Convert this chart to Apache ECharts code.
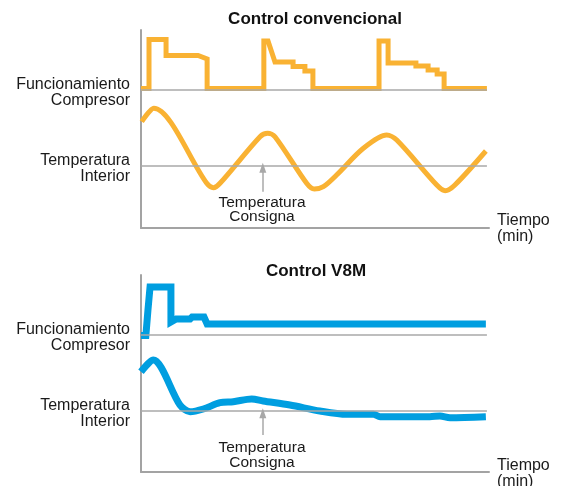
<!DOCTYPE html>
<html>
<head>
<meta charset="utf-8">
<script src="https://cdn.jsdelivr.net/npm/echarts@6/dist/echarts.min.js"></script>
<style>
  html, body { margin: 0; padding: 0; background: #fff; }
  #chart { width: 565px; height: 486px; }
</style>
</head>
<body>
<div id="chart"></div>
<script>
  // time in minutes (0..100), level = height above time axis (arbitrary units)
  var convCompressor = [[0, 139.5], [2.3, 139.5], [2.3, 188.5], [7.2, 188.5], [7.2, 172.5], [16.4, 172.5], [19.0, 169],
    [19.0, 139.5], [35.3, 139.5], [35.3, 187], [36.5, 187], [38.5, 166], [43.7, 166], [43.7, 161.5], [47.1, 161.5],
    [47.1, 157], [49.4, 157], [49.4, 139.5], [68.4, 139.5], [68.4, 187], [71.0, 187], [71.0, 165], [79.0, 165],
    [79.0, 162], [82.5, 162], [82.5, 158], [85.1, 158], [85.1, 154], [87.1, 154], [87.1, 139.5], [99.4, 139.5]]
  var convTemperature = [[0.2, 106.3], [3.7, 119.7], [18.9, 44.7], [20.8, 40.3], [22.7, 44.7], [34.2, 91.3], [36.4, 94.7],
    [38.5, 91.3], [47.6, 44.7], [49.8, 39], [52.4, 41.3], [56.2, 53], [63.9, 79.7], [70.6, 93], [73.5, 88],
    [85.0, 43], [87.4, 37.3], [90.2, 43], [99.1, 77]]
  var v8mCompressor = [[0, 136.5], [1.4, 136.5], [2.0, 162], [2.6, 185], [8.6, 185], [8.6, 150], [10.1, 153],
    [14.1, 153], [14.7, 155], [18.1, 155], [19.0, 148], [99.1, 148]]
  var v8mTemperature = [[0, 100.3], [3.5, 112], [11.2, 67], [14.1, 60.3], [17.9, 63], [22.7, 69.3], [26.5, 70.3],
    [31.8, 73], [35.1, 71], [42.8, 67], [51.4, 61], [59.1, 57.7], [66.8, 57.7], [68.7, 55.3], [83.0, 55.3],
    [85.9, 56], [88.8, 54.3], [99.1, 55.3]]
  // reference levels: [compressor off, setpoint temperature]
  var convLevels = [138.5, 62]
  var v8mLevels = [137, 61]
  var levelLabels = [['Funcionamiento', 'Compresor'], ['Temperatura', 'Interior']]
  var arrowTime = 35
  var convArrow = [36.3, 60.3]
  var v8mArrow = [37, 58.7]
  var titles = ['Control convencional', 'Control V8M']

  var ORANGE = '#F9B233'
  var BLUE = '#009EE0'
  var FONT = '"Liberation Sans", Arial, Helvetica, sans-serif'

  function makeYAxis (idx, max, levels) {
    return {
      type: 'value', gridIndex: idx, min: 0, max: max,
      axisLine: {show: true, lineStyle: {color: '#a3a3a3', width: 2}},
      axisTick: {show: false},
      splitLine: {show: false},
      axisLabel: {
        customValues: levels,
        formatter: function (v) {
          var l = levelLabels[levels.indexOf(v)]
          return '{a|' + l[0] + '}\n{b|' + l[1] + '}'
        },
        color: '#1a1a1a', fontSize: 16, fontFamily: FONT, margin: 11, align: 'right',
        rich: {
          a: {fontSize: 16, fontFamily: FONT, color: '#1a1a1a', lineHeight: 22, verticalAlign: 'bottom', align: 'right'},
          b: {fontSize: 16, fontFamily: FONT, color: '#1a1a1a', lineHeight: 16, align: 'right'}
        }
      }
    }
  }
  function makeXAxis (idx) {
    return {
      type: 'value', gridIndex: idx, min: 0, max: 100,
      axisLine: {show: true, onZero: false, lineStyle: {color: '#a3a3a3', width: 2}},
      axisTick: {show: false}, axisLabel: {show: false}, splitLine: {show: false}
    }
  }
  function refSeries (idx, levels, arrow) {
    return {
      type: 'line', xAxisIndex: idx, yAxisIndex: idx, data: [], z: 1, silent: true,
      markLine: {
        silent: true, symbol: 'none', animation: false,
        label: {show: false},
        data: [
          [{coord: [0, levels[0]]}, {coord: [99.4, levels[0]]}],
          [{coord: [0, levels[1]]}, {coord: [99.4, levels[1]]}],
          [{coord: [arrowTime, arrow[0]], symbol: 'none'}, {coord: [arrowTime, arrow[1]], symbol: 'triangle', symbolSize: [7, 10], symbolRotate: 0}]
        ],
        lineStyle: {color: '#a8a8a8', width: 1.5, type: 'solid'}
      }
    }
  }
  function lineSeries (idx, data, color, width, smooth) {
    return {
      type: 'line', xAxisIndex: idx, yAxisIndex: idx, data: data, z: 3,
      showSymbol: false, smooth: smooth, silent: true,
      lineStyle: {color: color, width: width, join: smooth ? 'round' : 'miter', cap: 'butt'}
    }
  }

  var chart = echarts.init(document.getElementById('chart'))
  var option = {
    animation: false,
    grid: [
      {left: 141, right: 76, top: 30, height: 198},
      {left: 141, right: 76, top: 275, height: 197}
    ],
    xAxis: [makeXAxis(0), makeXAxis(1)],
    yAxis: [makeYAxis(0, 198, convLevels), makeYAxis(1, 197, v8mLevels)],
    series: [
      refSeries(0, convLevels, convArrow),
      refSeries(1, v8mLevels, v8mArrow),
      lineSeries(0, convCompressor, ORANGE, 5, false),
      lineSeries(0, convTemperature, ORANGE, 5, 0.3),
      lineSeries(1, v8mCompressor, BLUE, 7, false),
      lineSeries(1, v8mTemperature, BLUE, 7, 0.3)
    ],
    graphic: [
      {type: 'text', x: 315, y: 19, style: {text: titles[0], font: 'bold 17px ' + FONT, fill: '#111', align: 'center', verticalAlign: 'middle'}},
      {type: 'text', x: 316, y: 271, style: {text: titles[1], font: 'bold 17px ' + FONT, fill: '#111', align: 'center', verticalAlign: 'middle'}},
      {type: 'text', x: 262, y: 210, style: {text: 'Temperatura\nConsigna', font: '15.5px ' + FONT, lineHeight: 14, fill: '#1a1a1a', align: 'center', verticalAlign: 'middle'}},
      {type: 'text', x: 262, y: 455, style: {text: 'Temperatura\nConsigna', font: '15.5px ' + FONT, lineHeight: 15, fill: '#1a1a1a', align: 'center', verticalAlign: 'middle'}},
      {type: 'text', x: 497, y: 229, style: {text: 'Tiempo\n(min)', font: '16px ' + FONT, lineHeight: 16, fill: '#1a1a1a', align: 'left', verticalAlign: 'middle'}},
      {type: 'text', x: 497, y: 474, style: {text: 'Tiempo\n(min)', font: '16px ' + FONT, lineHeight: 16, fill: '#1a1a1a', align: 'left', verticalAlign: 'middle'}}
    ]
  }
  chart.setOption(option)
</script>
</body>
</html>
